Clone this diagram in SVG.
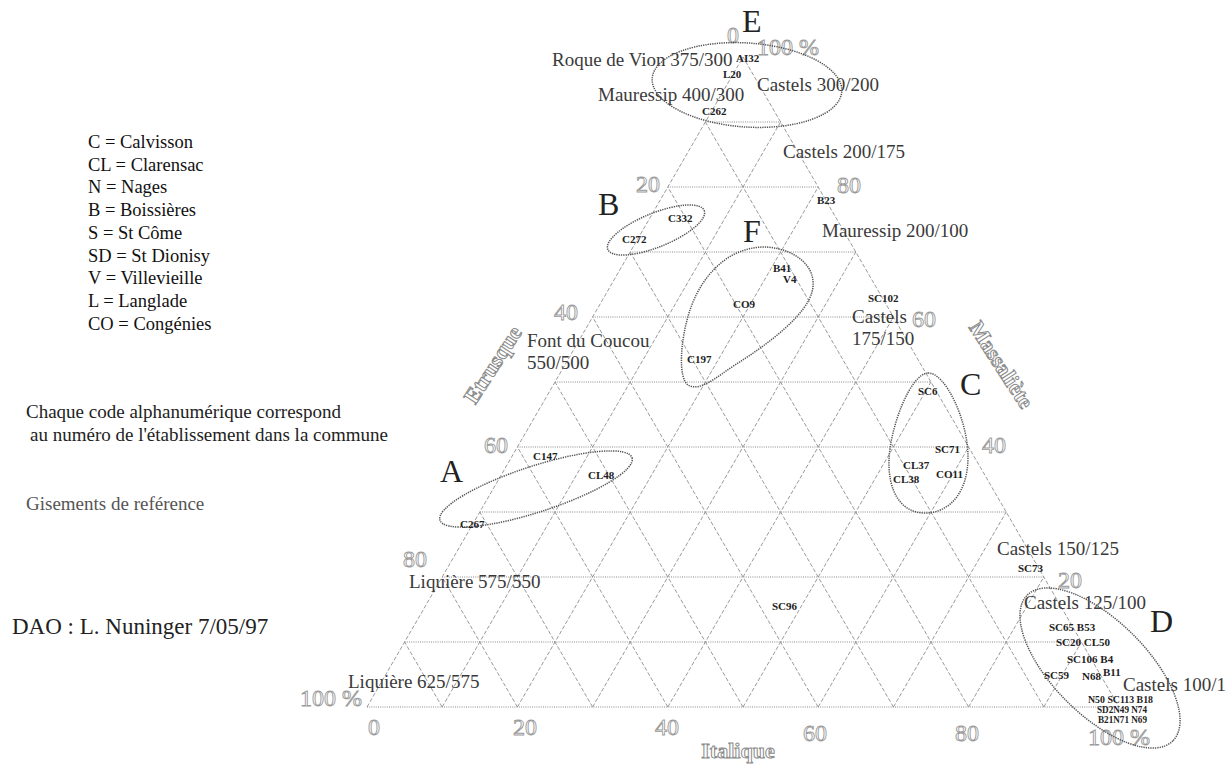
<svg xmlns="http://www.w3.org/2000/svg" width="1232" height="772" viewBox="0 0 1232 772">
<defs>
<style>
.diag{stroke:#9a9a9a;stroke-width:1;stroke-dasharray:4 2;fill:none}
.hor{stroke:#8a8a8a;stroke-width:1;stroke-dasharray:1 1.2;fill:none}
.tick{font-family:"Liberation Serif",serif;font-size:24px;fill:#fff;stroke:#9a9a9a;stroke-width:0.9}
.axis{font-family:"Liberation Serif",serif;font-size:22px;font-weight:bold;fill:#fff;stroke:#8a8a8a;stroke-width:1}
.site{font-family:"Liberation Serif",serif;font-size:19px;fill:#3a3a3a}
.code{font-family:"Liberation Serif",serif;font-size:11px;font-weight:bold;fill:#222}
.grp{font-family:"Liberation Serif",serif;font-size:32px;fill:#222}
.leg{font-family:"Liberation Serif",serif;font-size:18.5px;fill:#111}
.note{font-family:"Liberation Serif",serif;font-size:19px;fill:#222}
.ell{fill:none;stroke:#555;stroke-width:1.5;stroke-dasharray:1.3 1}
</style>
</defs>
<rect width="1232" height="772" fill="#fff"/>

<g id="grid">
<path class="diag" d="M367,707 L743,57 L1119,707"/>
<path class="diag" d="M442.2,707 L780.6,122 M517.4,707 L818.2,187 M592.6,707 L855.8,252 M667.8,707 L893.4,317 M743,707 L931,382 M818.2,707 L968.6,447 M893.4,707 L1006.2,512 M968.6,707 L1043.8,577 M1043.8,707 L1081.4,642"/>
<path class="diag" d="M442.2,707 L404.6,642 M517.4,707 L442.2,577 M592.6,707 L479.8,512 M667.8,707 L517.4,447 M743,707 L555,382 M818.2,707 L592.6,317 M893.4,707 L630.2,252 M968.6,707 L667.8,187 M1043.8,707 L705.4,122"/>
<path class="hor" d="M705.4,122 H780.6 M667.8,187 H818.2 M630.2,252 H855.8 M592.6,317 H893.4 M555,382 H931 M517.4,447 H968.6 M479.8,512 H1006.2 M442.2,577 H1043.8 M404.6,642 H1081.4 M367,707 H1119"/>
</g>

<g id="ticks">
<text class="tick" x="727" y="43">0</text>
<text class="tick" x="757" y="55">100 %</text>
<text class="tick" x="660" y="192" text-anchor="end">20</text>
<text class="tick" x="578" y="320" text-anchor="end">40</text>
<text class="tick" x="508" y="453" text-anchor="end">60</text>
<text class="tick" x="427" y="567" text-anchor="end">80</text>
<text class="tick" x="362" y="706" text-anchor="end">100 %</text>
<text class="tick" x="837" y="193">80</text>
<text class="tick" x="912" y="327">60</text>
<text class="tick" x="982" y="453">40</text>
<text class="tick" x="1058" y="588">20</text>
<text class="tick" x="374" y="735" text-anchor="middle">0</text>
<text class="tick" x="525" y="735" text-anchor="middle">20</text>
<text class="tick" x="667" y="735" text-anchor="middle">40</text>
<text class="tick" x="815" y="741" text-anchor="middle">60</text>
<text class="tick" x="967" y="741" text-anchor="middle">80</text>
<text class="tick" x="1088" y="745">100 %</text>
</g>

<g id="axis-titles">
<text class="axis" transform="translate(493,365) rotate(-57)" x="0" y="7" text-anchor="middle">Etrusque</text>
<text class="axis" transform="translate(1001,365) rotate(57)" x="0" y="7" text-anchor="middle">Massaliète</text>
<text class="axis" x="738" y="758" text-anchor="middle">Italique</text>
</g>

<g id="sites">
<text class="site" x="552" y="66">Roque de Vion 375/300</text>
<text class="site" x="598" y="101">Mauressip 400/300</text>
<text class="site" x="757" y="91">Castels 300/200</text>
<text class="site" x="783" y="158">Castels 200/175</text>
<text class="site" x="822" y="237">Mauressip 200/100</text>
<text class="site" x="852" y="323">Castels</text>
<text class="site" x="852" y="345">175/150</text>
<text class="site" x="527" y="347">Font du Coucou</text>
<text class="site" x="527" y="369">550/500</text>
<text class="site" x="997" y="555">Castels 150/125</text>
<text class="site" x="1024" y="609">Castels 125/100</text>
<text class="site" x="1123" y="691">Castels 100/1</text>
<text class="site" x="409" y="588">Liquière 575/550</text>
<text class="site" x="348" y="688">Liquière 625/575</text>
</g>

<g id="group-E">
<ellipse class="ell" cx="747" cy="85" rx="95" ry="42" transform="rotate(4 747 85)"/>
<text class="grp" x="742" y="32">E</text>
<text class="code" x="736" y="62">AI32</text>
<text class="code" x="723" y="78">L20</text>
<text class="code" x="702" y="115">C262</text>
</g>

<g id="group-B">
<ellipse class="ell" cx="656" cy="230" rx="52" ry="17" transform="rotate(-22 656 230)"/>
<text class="grp" x="598" y="215">B</text>
<text class="code" x="668" y="222">C332</text>
<text class="code" x="622" y="243">C272</text>
</g>

<g id="group-F">
<path class="ell" d="M767,247 C800,250 818,270 812,292 C806,315 770,343 735,365 C715,378 700,392 688,385 C678,378 680,340 690,310 C700,280 725,246 767,247 Z"/>
<text class="grp" x="743" y="242">F</text>
<text class="code" x="773" y="272">B41</text>
<text class="code" x="783" y="283">V4</text>
<text class="code" x="733" y="308">CO9</text>
<text class="code" x="687" y="363">C197</text>
</g>

<g id="group-A">
<ellipse class="ell" cx="536" cy="489" rx="101" ry="23" transform="rotate(-18 536 489)"/>
<text class="grp" x="440" y="482">A</text>
<text class="code" x="533" y="460">C147</text>
<text class="code" x="588" y="479">CL48</text>
<text class="code" x="460" y="528">C267</text>
</g>

<g id="group-C">
<path class="ell" d="M928,373 C945,372 968,420 968,457 C968,492 950,513 925,513 C900,513 888,490 889,460 C890,428 910,374 928,373 Z"/>
<text class="grp" x="960" y="395">C</text>
<text class="code" x="918" y="395">SC6</text>
<text class="code" x="935" y="453">SC71</text>
<text class="code" x="903" y="469">CL37</text>
<text class="code" x="936" y="478">CO11</text>
<text class="code" x="893" y="483">CL38</text>
</g>

<g id="group-D">
<ellipse class="ell" cx="1100" cy="668" rx="103" ry="47" transform="rotate(45 1100 668)"/>
<text class="grp" x="1150" y="632">D</text>
<text class="code" x="1049" y="631">SC65 B53</text>
<text class="code" x="1056" y="646">SC20 CL50</text>
<text class="code" x="1067" y="663">SC106 B4</text>
<text class="code" x="1044" y="679">SC59</text>
<text class="code" x="1082" y="680">N68</text>
<text class="code" x="1103" y="676">B11</text>
<text class="code" x="1088" y="703" textLength="65" lengthAdjust="spacingAndGlyphs">N50 SC113 B18</text>
<text class="code" x="1097" y="713" textLength="50" lengthAdjust="spacingAndGlyphs">SD2N49 N74</text>
<text class="code" x="1098" y="723" textLength="49" lengthAdjust="spacingAndGlyphs">B21N71 N69</text>
</g>

<g id="points">
<text class="code" x="817" y="204">B23</text>
<text class="code" x="868" y="302">SC102</text>
<text class="code" x="1018" y="572">SC73</text>
<text class="code" x="772" y="610">SC96</text>
</g>

<g id="legend">
<text class="leg" x="88" y="148">C = Calvisson</text>
<text class="leg" x="88" y="170.7">CL = Clarensac</text>
<text class="leg" x="88" y="193.4">N = Nages</text>
<text class="leg" x="88" y="216.1">B = Boissières</text>
<text class="leg" x="88" y="238.8">S = St Côme</text>
<text class="leg" x="88" y="261.5">SD = St Dionisy</text>
<text class="leg" x="88" y="284.2">V = Villevieille</text>
<text class="leg" x="88" y="306.9">L = Langlade</text>
<text class="leg" x="88" y="329.6">CO = Congénies</text>
</g>

<g id="notes">
<text class="note" x="26" y="418">Chaque code alphanumérique correspond</text>
<text class="note" x="30" y="441">au numéro de l'établissement dans la commune</text>
<text class="note" x="26" y="510" style="fill:#555">Gisements de reférence</text>
<text class="note" x="12" y="634" style="font-size:23px">DAO : L. Nuninger 7/05/97</text>
</g>
</svg>
